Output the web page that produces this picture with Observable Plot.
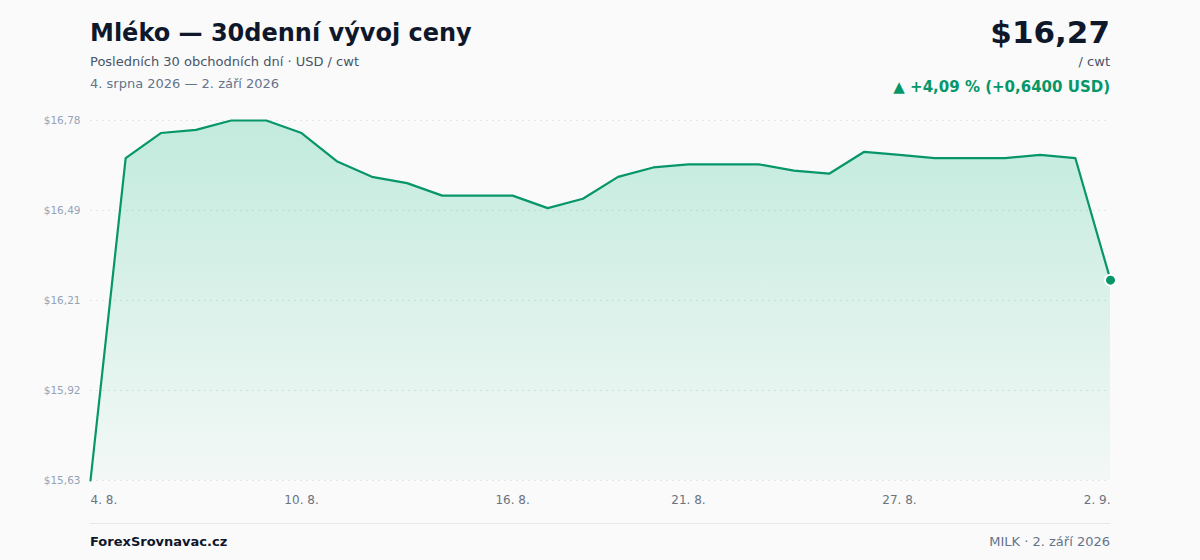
<!DOCTYPE html>
<html>
<head>
<meta charset="utf-8">
<script src="https://cdn.jsdelivr.net/npm/d3@7"></script>
<script src="https://cdn.jsdelivr.net/npm/@observablehq/plot@0.6"></script>
<style>
  html, body { margin: 0; padding: 0; background: #fafafa; }
  body { width: 1200px; height: 560px; position: relative; overflow: hidden; font-family: "DejaVu Sans", sans-serif; }
  .abs { position: absolute; white-space: nowrap; }
  #title { left: 90px; top: 19px; font-size: 24px; font-weight: bold; color: #0f172a; }
  #sub { left: 90px; top: 54px; font-size: 13px; color: #475569; }
  #range { left: 90px; top: 76px; font-size: 13px; color: #64748b; }
  #price { right: 90px; top: 14px; font-size: 31px; font-weight: bold; color: #0f172a; }
  #unit { right: 90px; top: 54px; font-size: 13px; color: #475569; }
  #chg { right: 90px; top: 78px; font-size: 15px; font-weight: bold; color: #059669; }
  #chart { position: absolute; left: 0; top: 0; }
  #sep { left: 90px; width: 1020px; top: 523px; height: 1px; background: #e5e7eb; }
  #brand { left: 90px; top: 534px; font-size: 13px; font-weight: bold; color: #0f172a; }
  #src { right: 90px; top: 534px; font-size: 13px; color: #64748b; }
</style>
</head>
<body>
<div id="chart"></div>
<div class="abs" id="title">Mléko — 30denní vývoj ceny</div>
<div class="abs" id="sub">Posledních 30 obchodních dní · USD / cwt</div>
<div class="abs" id="range">4. srpna 2026 — 2. září 2026</div>
<div class="abs" id="price">$16,27</div>
<div class="abs" id="unit">/ cwt</div>
<div class="abs" id="chg">▲ +4,09 % (+0,6400 USD)</div>
<div class="abs" id="sep"></div>
<div class="abs" id="brand">ForexSrovnavac.cz</div>
<div class="abs" id="src">MILK · 2. září 2026</div>
<script>
const dates = [
  "2026-08-04","2026-08-05","2026-08-06","2026-08-07","2026-08-08","2026-08-09",
  "2026-08-10","2026-08-11","2026-08-12","2026-08-13","2026-08-14","2026-08-15",
  "2026-08-16","2026-08-17","2026-08-18","2026-08-19","2026-08-20","2026-08-21",
  "2026-08-22","2026-08-23","2026-08-24","2026-08-25","2026-08-26","2026-08-27",
  "2026-08-28","2026-08-29","2026-08-30","2026-08-31","2026-09-01","2026-09-02"
];
const prices = [
  15.63, 16.66, 16.74, 16.75, 16.78, 16.78,
  16.74, 16.65, 16.60, 16.58, 16.54, 16.54,
  16.54, 16.50, 16.53, 16.60, 16.63, 16.64,
  16.64, 16.64, 16.62, 16.61, 16.68, 16.67,
  16.66, 16.66, 16.66, 16.67, 16.66, 16.27
];
const xTickDates = ["2026-08-04","2026-08-10","2026-08-16","2026-08-21","2026-08-27","2026-09-02"];
const xTickLabels = ["4. 8.","10. 8.","16. 8.","21. 8.","27. 8.","2. 9."];
const yTickLabels = ["$15,63","$15,92","$16,21","$16,49","$16,78"];

const data = dates.map((d, i) => ({date: new Date(d + "T00:00:00Z"), price: prices[i]}));
const yMin = d3.min(prices), yMax = d3.max(prices);
const yTicks = yTickLabels.map((_, i) => yMin + i * (yMax - yMin) / (yTickLabels.length - 1));
const xTicks = xTickDates.map(d => new Date(d + "T00:00:00Z"));
const xLab = new Map(xTicks.map((d, i) => [+d, xTickLabels[i]]));
const yLab = (v) => yTickLabels[yTicks.findIndex(t => Math.abs(t - v) < 1e-9)];
const last = data[data.length - 1];

const defs = () => {
  const svg = d3.create("svg:g");
  const g = svg.append("defs").append("linearGradient")
    .attr("id", "areaGrad").attr("x1", 0).attr("y1", 0).attr("x2", 0).attr("y2", 1);
  g.append("stop").attr("offset", "0%").attr("stop-color", "#10b981").attr("stop-opacity", 0.24);
  g.append("stop").attr("offset", "100%").attr("stop-color", "#10b981").attr("stop-opacity", 0.03);
  return svg.node();
};

const chart = Plot.plot({
  width: 1200,
  height: 520,
  marginLeft: 90,
  marginRight: 90,
  marginTop: 120,
  marginBottom: 40,
  style: {background: "transparent", fontFamily: "DejaVu Sans, sans-serif"},
  x: {type: "utc", domain: [data[0].date, last.date]},
  y: {domain: [yMin, yMax]},
  marks: [
    defs,
    Plot.ruleY(yTicks, {stroke: "#e2e5ea", strokeDasharray: "2,4", strokeWidth: 1}),
    Plot.areaY(data, {x: "date", y1: yMin, y2: "price", fill: "url(#areaGrad)"}),
    Plot.line(data, {x: "date", y: "price", stroke: "#079669", strokeWidth: 2.2}),
    Plot.dot([last], {x: "date", y: "price", r: 5.5, fill: "#079669", stroke: "white", strokeWidth: 2}),
    Plot.axisY({ticks: yTicks, tickFormat: yLab, tickSize: 0, tickPadding: 10, fontSize: 10.5, color: "#94a3b8", label: null}),
    Plot.axisX({ticks: xTicks.slice(0, 1), tickFormat: d => xLab.get(+d), tickSize: 0, tickPadding: 15, textAnchor: "start", fontSize: 12, color: "#6b7280", label: null}),
    Plot.axisX({ticks: xTicks.slice(1, -1), tickFormat: d => xLab.get(+d), tickSize: 0, tickPadding: 15, fontSize: 12, color: "#6b7280", label: null}),
    Plot.axisX({ticks: xTicks.slice(-1), tickFormat: d => xLab.get(+d), tickSize: 0, tickPadding: 15, textAnchor: "end", fontSize: 12, color: "#6b7280", label: null})
  ]
});
document.getElementById("chart").appendChild(chart);
</script>
</body>
</html>
